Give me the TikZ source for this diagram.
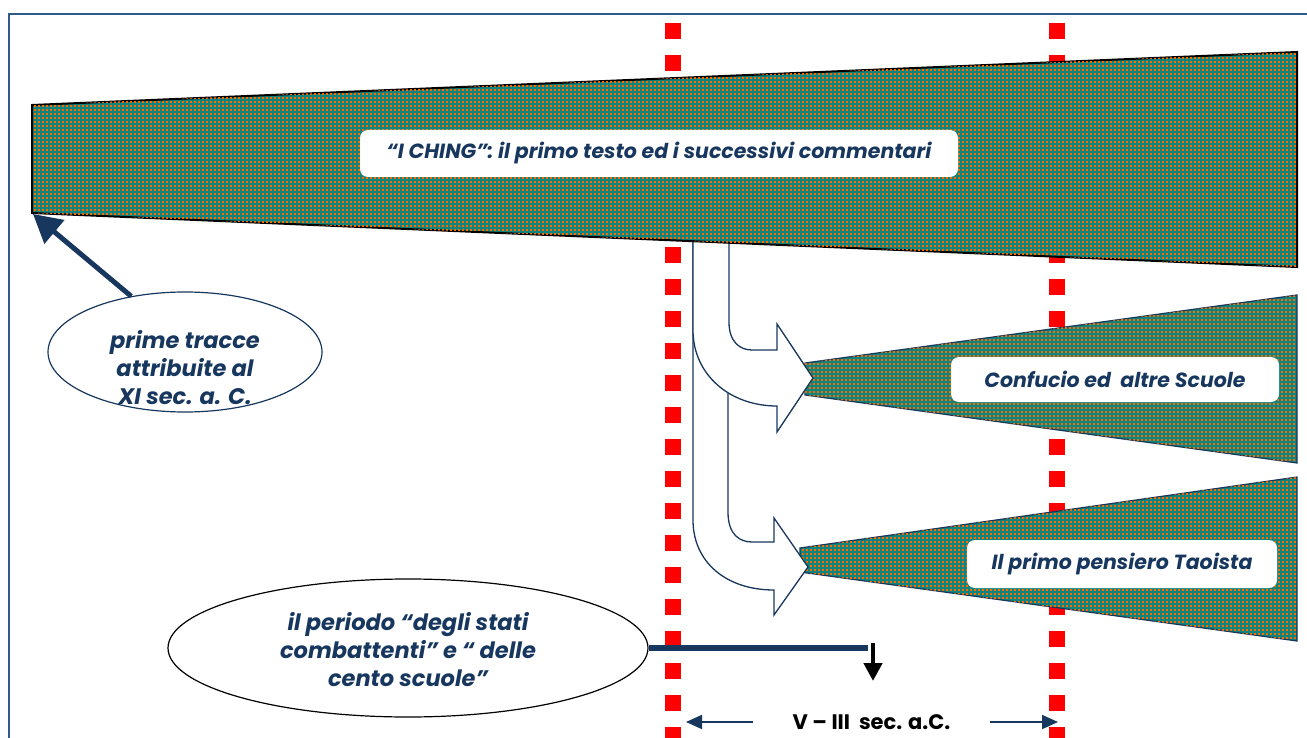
\documentclass[tikz,border=0pt]{standalone}
\usepackage{fontspec}
\setmainfont{Poppins}
\usepackage{xcolor}
\usetikzlibrary{arrows.meta,shapes.geometric,patterns}
\definecolor{inkblue}{HTML}{17375E}
\definecolor{frameblue}{HTML}{2E5A8E}
\definecolor{bandteal}{HTML}{0E857E}
\definecolor{dotorange}{HTML}{FF6A00}
\pgfdeclarepatternformonly{gridspots}{\pgfqpoint{0pt}{0pt}}{\pgfqpoint{3.8pt}{3.8pt}}{\pgfqpoint{3.8pt}{3.8pt}}{\pgfpathrectangle{\pgfqpoint{0pt}{0pt}}{\pgfqpoint{2pt}{2pt}}\pgfusepath{fill}}

\begin{document}
\begin{tikzpicture}[x=1pt,y=-1pt,
  font=\fontsize{20.5}{24}\selectfont\bfseries\itshape,
  band/.style={fill=bandteal,postaction={pattern=gridspots,pattern color=dotorange}},
  tag/.style={fill=white,rounded corners=8pt,inner sep=0pt,text=inkblue},
  bubble/.style={ellipse,fill=white,inner sep=0pt,line width=1.2pt},
  bubtext/.style={text=inkblue,align=center,inner sep=0pt,
    font=\fontsize{22.5}{28}\selectfont\bfseries\itshape},
  fork/.style={fill=white,draw=inkblue,line width=1.3pt},
  redcut/.style={red,line width=16pt,dash pattern=on 16pt off 16pt},
  lead/.style={inkblue,line width=5pt}]
\clip (0,0) rectangle (1307,738);
% frame
\draw[frameblue,line width=2.5pt] (9,14) rectangle (1340,770);
% period limits
\draw[redcut] (673,23) -- (673,738);
\draw[redcut] (1057,23) -- (1057,738);
% schools
\path[band,draw=inkblue,line width=1.2pt] (805,363) -- (1297,295) -- (1297,463) -- (805,395) -- cycle;
\path[band,draw=inkblue,line width=1.2pt] (800,548) -- (1297,477) -- (1297,641) -- (800,572) -- cycle;
% branches
\draw[fork] (693,238) -- (728,238) -- (728,512) .. controls (728,535) and (740,542) .. (752,542)
  -- (774,542) -- (774,518) -- (808,567) -- (774,615) -- (774,590)
  .. controls (726,590) and (693,562) .. (693,520) -- cycle;
\draw[fork] (693,238) -- (729,238) -- (729,322) .. controls (729,342) and (740,350) .. (752,350)
  -- (777,350) -- (777,324) -- (813,378) -- (777,432) -- (777,406)
  .. controls (730,406) and (693,375) .. (693,330) -- cycle;
% I Ching band
\path[band,draw=black,line width=2pt] (32,105) -- (1297,52) -- (1297,267) -- (32,213) -- cycle;
\coordinate (ichingSW) at (33,214);
\node[tag,minimum width=598pt,minimum height=47pt] (iching) at (659,153.5)
  {“I CHING”: il primo testo ed i successivi commentari};
\node[tag,minimum width=328pt,minimum height=45pt] (confucio) at (1115,379.5)
  {Confucio ed\ \ altre Scuole};
\node[tag,minimum width=310pt,minimum height=48pt] (tao) at (1122,564)
  {Il primo pensiero Taoista};
% callouts
\node[bubble,draw=inkblue,minimum width=274pt,minimum height=120pt] (tracce) at (185,352) {};
\node[bubtext] (traccetxt) at ([yshift=-16pt]tracce.center)
  {prime tracce\\attribuite al\\XI sec. a. C.};
\draw[lead,-{Triangle[length=28pt,width=30pt]}] (tracce.134) -- (ichingSW);
\node[bubble,draw=black,minimum width=480pt,minimum height=138pt] (periodo) at (408,648) {};
\node[bubtext] (periodotxt) at ([yshift=-2pt]periodo.center)
  {il periodo “degli stati\\combattenti” e “ delle\\cento scuole”};
\coordinate (stati) at (868,648);
\coordinate (dropTop) at (873,643);
\coordinate (dropEnd) at (873,681);
\draw[inkblue,line width=5.5pt] (periodo.east) -- (stati);
\draw[black,line width=4.5pt,-{Triangle[length=18pt,width=18pt]}] (dropTop) -- (dropEnd);
% time span
\node[font=\fontsize{21}{24}\selectfont\bfseries,minimum width=237pt,inner sep=0pt] (epoca) at (871.5,722)
  {V – III\ \ sec. a.C.};
\coordinate (tipL) at (686,722);
\coordinate (tipR) at (1058,722);
\draw[inkblue,line width=1.8pt,-{Triangle[length=16pt,width=14pt]}] (epoca.west) -- (tipL);
\draw[inkblue,line width=1.8pt,-{Triangle[length=16pt,width=14pt]}] (epoca.east) -- (tipR);
\end{tikzpicture}
\end{document}
